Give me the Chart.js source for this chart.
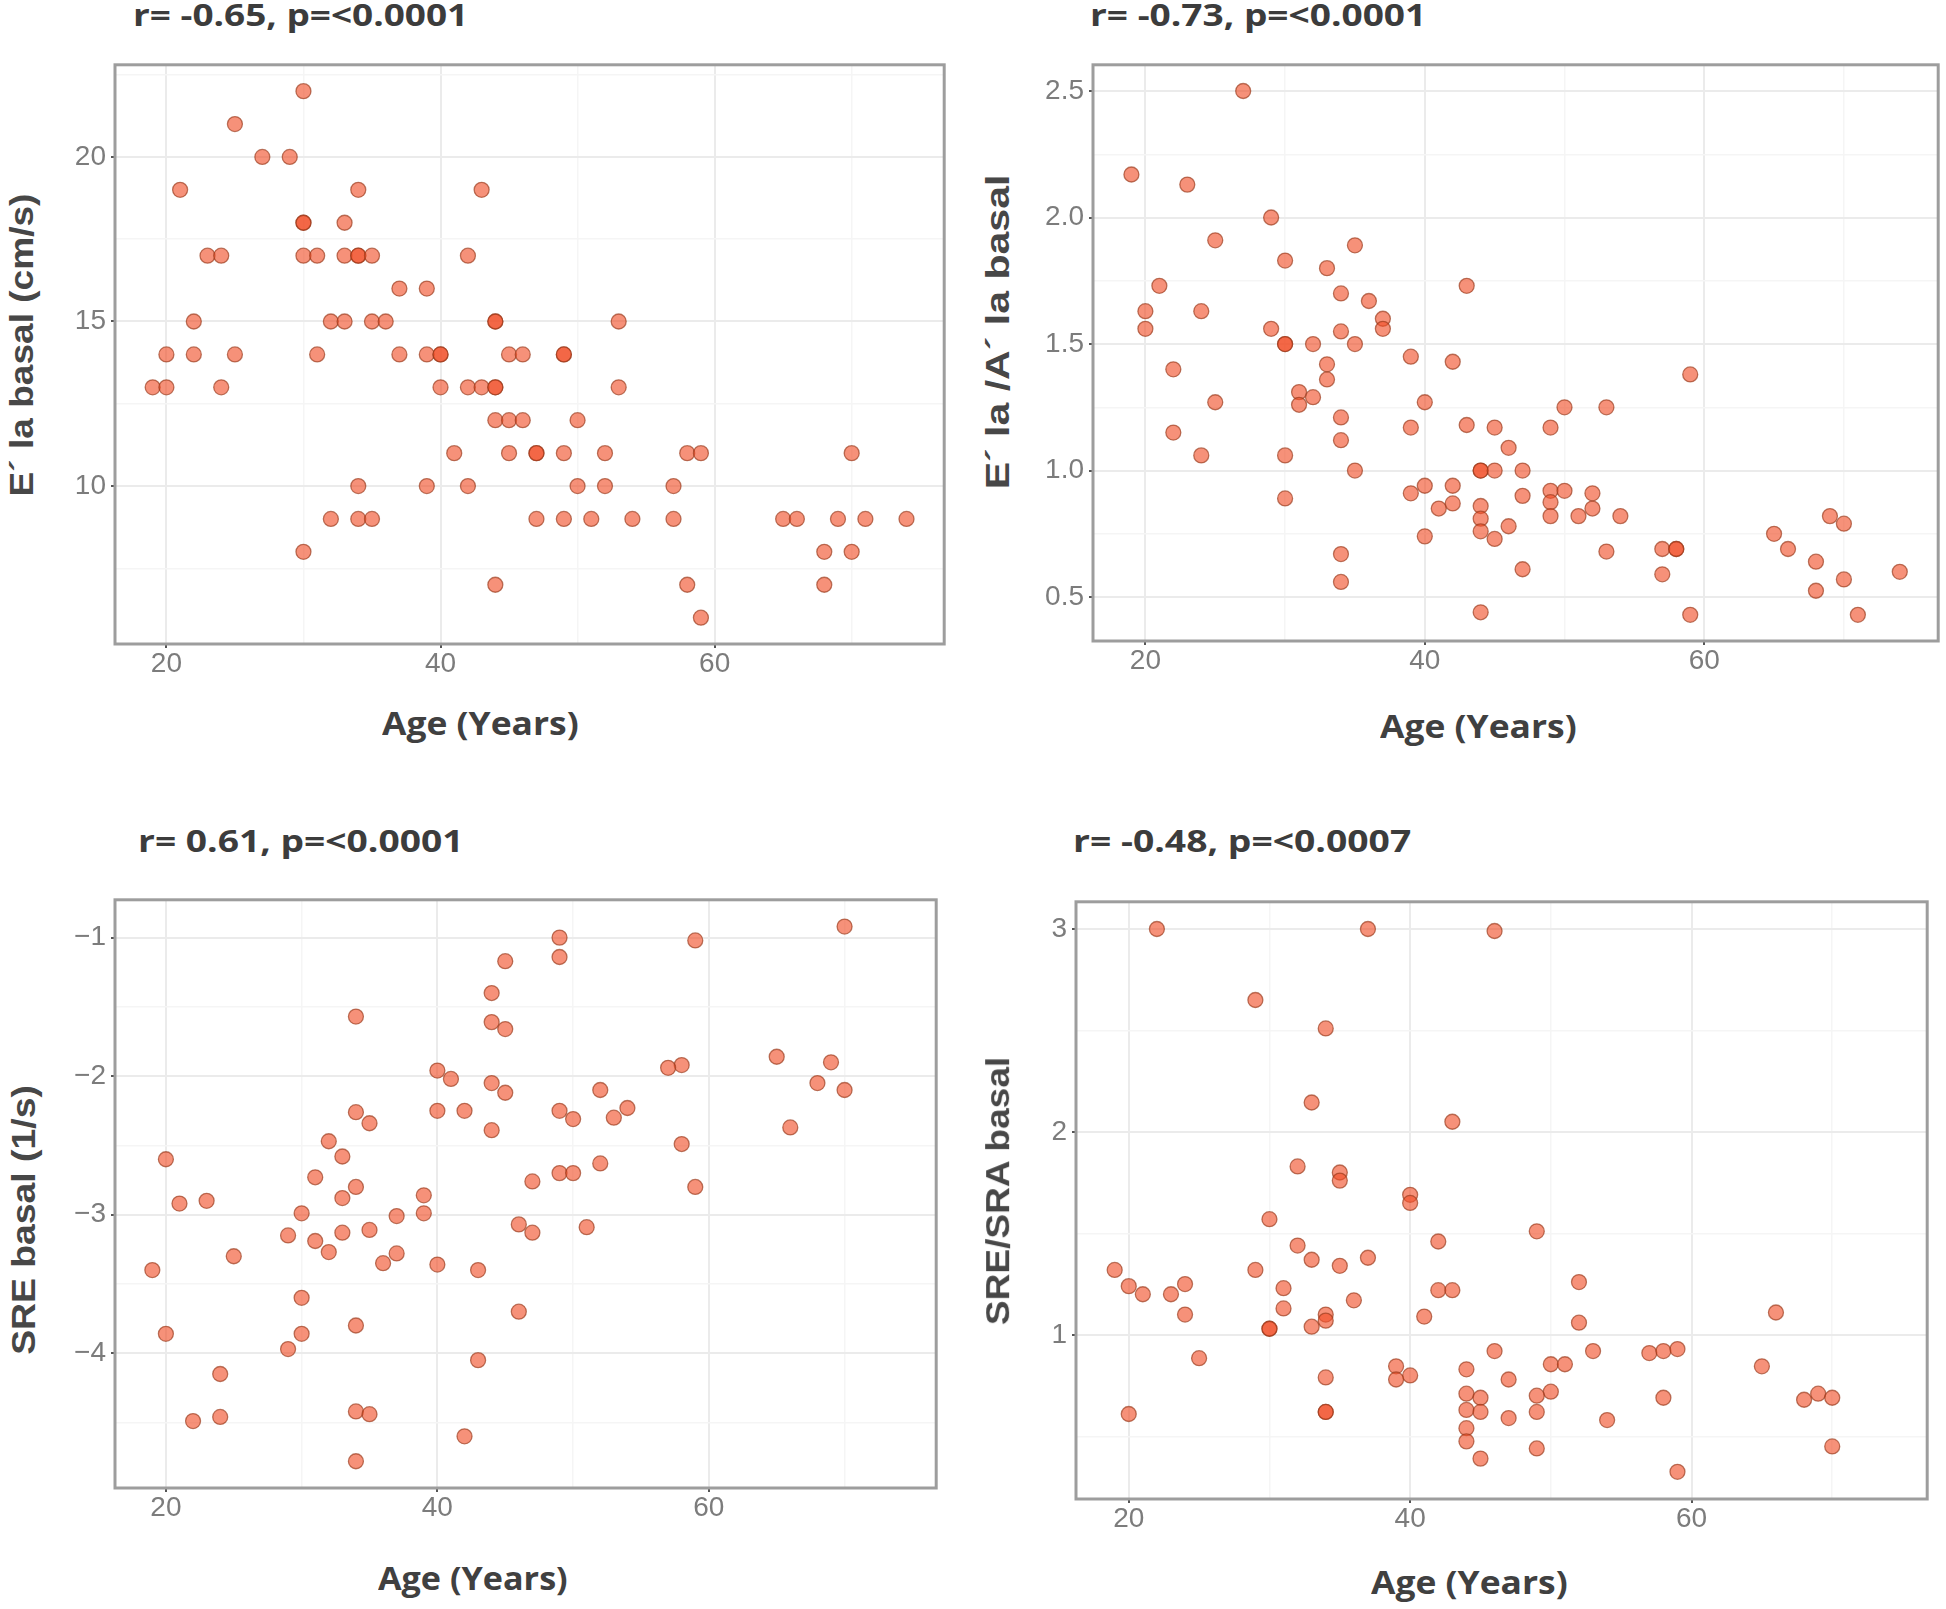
<!DOCTYPE html>
<html>
<head>
<meta charset="utf-8">
<title>E´ la / SRE basal vs Age</title>
<script src="https://cdn.jsdelivr.net/npm/chart.js@4.4.1/dist/chart.umd.min.js"></script>
<style>
  html, body { margin: 0; padding: 0; background: #fff; }
  #page { position: relative; width: 1946px; height: 1609px; overflow: hidden; background: #fff; }
  #page canvas { position: absolute; }
  .txt { position: absolute; white-space: nowrap; line-height: 1; transform-origin: 0 0; }
  .stat { font-family: 'Open Sans'; font-weight: 700; font-size: 30px; color: #3c3c3c; }
  .xlab { font-family: 'Open Sans'; font-weight: 700; font-size: 32px; color: #404040; }
  .ylab { font-family: 'Liberation Sans'; font-weight: 700; font-size: 34px; color: #474747; transform-origin: 50% 50%; }
</style>
</head>
<body>
<div id="page">
  <canvas id="chartEla"></canvas>
  <canvas id="chartRatio"></canvas>
  <canvas id="chartSre"></canvas>
  <canvas id="chartSreSra"></canvas>
</div>
<script>
// ---------------------------------------------------------------
// Dados: idade x parâmetro, um par por índice
// ---------------------------------------------------------------

// Eixo X comum
const xMajor = [20, 40, 60];
const xMinor = [30, 50, 70];

// 1) E´ la basal (cm/s)
const ageEla = [
  30, 25, 27, 29, 21, 34, 43,
  30, 30, 33,
  23, 24, 30, 31, 33, 34, 34, 35, 42,
  37, 39,
  22, 32, 33, 35, 36, 44, 44, 53,
  20, 22, 25, 31, 37, 39, 40, 40, 45, 46, 49, 49,
  19, 20, 24, 40, 42, 43, 44, 44, 53,
  44, 45, 46, 50,
  41, 45, 47, 47, 49, 52, 58, 59, 70,
  34, 39, 42, 50, 52, 57,
  32, 34, 35, 47, 49, 51, 54, 57, 65, 66, 69, 71, 74,
  30, 68, 70,
  44, 58, 68,
  59
];
const ela = [
  22, 21, 20, 20, 19, 19, 19,
  18, 18, 18,
  17, 17, 17, 17, 17, 17, 17, 17, 17,
  16, 16,
  15, 15, 15, 15, 15, 15, 15, 15,
  14, 14, 14, 14, 14, 14, 14, 14, 14, 14, 14, 14,
  13, 13, 13, 13, 13, 13, 13, 13, 13,
  12, 12, 12, 12,
  11, 11, 11, 11, 11, 11, 11, 11, 11,
  10, 10, 10, 10, 10, 10,
  9, 9, 9, 9, 9, 9, 9, 9, 9, 9, 9, 9, 9,
  8, 8, 8,
  7, 7, 7,
  6
];
const elaTicks = [10, 15, 20];
const elaMinor = [7.5, 12.5, 17.5, 22.5];

// 2) E´ la /A´ la basal
const ageRatio = [
  27, 19, 23, 29, 25, 35, 30, 33, 21, 43,
  34, 36, 20, 24, 37, 37, 20, 29, 34, 30,
  30, 32, 35, 39, 42, 33, 22, 59, 33, 31,
  32, 25, 40, 31, 50, 53, 34, 43, 39, 45,
  49, 22, 34, 46, 24, 30, 35, 44, 44, 45,
  47, 40, 42, 49, 50, 39, 52, 47, 30, 49,
  42, 44, 41, 52, 49, 51, 54, 69, 44, 70,
  46, 44, 65, 40, 45, 57, 58, 58, 66, 53,
  34, 68, 47, 74, 57, 70, 34, 68, 44, 59,
  71
];
const ratio = [
  2.50, 2.17, 2.13, 2.00, 1.91, 1.89, 1.83, 1.80, 1.73, 1.73,
  1.70, 1.67, 1.63, 1.63, 1.60, 1.56, 1.56, 1.56, 1.55, 1.50,
  1.50, 1.50, 1.50, 1.45, 1.43, 1.42, 1.40, 1.38, 1.36, 1.31,
  1.29, 1.27, 1.27, 1.26, 1.25, 1.25, 1.21, 1.18, 1.17, 1.17,
  1.17, 1.15, 1.12, 1.09, 1.06, 1.06, 1.00, 1.00, 1.00, 1.00,
  1.00, 0.94, 0.94, 0.92, 0.92, 0.91, 0.91, 0.90, 0.89, 0.875,
  0.87, 0.86, 0.85, 0.85, 0.82, 0.82, 0.82, 0.82, 0.81, 0.79,
  0.78, 0.76, 0.75, 0.74, 0.73, 0.69, 0.69, 0.69, 0.69, 0.68,
  0.67, 0.64, 0.61, 0.60, 0.59, 0.57, 0.56, 0.525, 0.44, 0.43,
  0.43
];
const ratioTicks = [0.5, 1.0, 1.5, 2.0, 2.5];
const ratioMinor = [0.75, 1.25, 1.75, 2.25];

// 3) SRE basal (1/s)
const ageSre = [
  70, 49, 59, 49, 45, 44, 34, 44, 45, 65,
  69, 58, 57, 40, 41, 44, 68, 52, 70, 45,
  54, 49, 40, 42, 34, 53, 50, 35, 66, 44,
  32, 58, 33, 20, 52, 49, 50, 31, 47, 34,
  59, 39, 33, 23, 21, 30, 39, 37, 46, 51,
  35, 33, 47, 29, 31, 32, 37, 25, 36, 40,
  19, 43, 30, 46, 34, 20, 30, 29, 43, 24,
  34, 35, 24, 22, 42, 34
];
const sre = [
  -0.92, -1.00, -1.02, -1.14, -1.17, -1.40, -1.57, -1.61, -1.66, -1.86,
  -1.90, -1.92, -1.94, -1.96, -2.02, -2.05, -2.05, -2.10, -2.10, -2.12,
  -2.23, -2.25, -2.25, -2.25, -2.26, -2.30, -2.31, -2.34, -2.37, -2.39,
  -2.47, -2.49, -2.58, -2.60, -2.63, -2.70, -2.70, -2.73, -2.76, -2.80,
  -2.80, -2.86, -2.88, -2.90, -2.92, -2.99, -2.99, -3.01, -3.07, -3.09,
  -3.11, -3.13, -3.13, -3.15, -3.19, -3.27, -3.28, -3.30, -3.35, -3.36,
  -3.40, -3.40, -3.60, -3.70, -3.80, -3.86, -3.86, -3.97, -4.05, -4.15,
  -4.42, -4.44, -4.46, -4.49, -4.60, -4.78
];
const sreTicks = [-4, -3, -2, -1];
const sreMinor = [-4.5, -3.5, -2.5, -1.5];

// 4) SRE/SRA basal
const ageSreSra = [
  22, 37, 46, 29, 34, 33, 43, 32, 35, 35,
  40, 40, 30, 49, 42, 32, 37, 33, 35, 19,
  29, 52, 24, 20, 31, 42, 43, 21, 23, 36,
  31, 66, 24, 34, 41, 34, 52, 33, 30, 30,
  46, 53, 57, 58, 59, 25, 50, 51, 39, 65,
  44, 40, 34, 39, 47, 44, 50, 45, 49, 58,
  68, 69, 70, 44, 34, 34, 49, 45, 20, 47,
  54, 44, 44, 49, 70, 45, 59
];
const sreSra = [
  3.00, 3.00, 2.99, 2.65, 2.51, 2.145, 2.05, 1.83, 1.80, 1.76,
  1.69, 1.65, 1.57, 1.51, 1.46, 1.44, 1.38, 1.37, 1.34, 1.32,
  1.32, 1.26, 1.25, 1.24, 1.23, 1.22, 1.22, 1.20, 1.20, 1.17,
  1.13, 1.11, 1.10, 1.10, 1.09, 1.07, 1.06, 1.04, 1.03, 1.03,
  0.92, 0.92, 0.91, 0.92, 0.93, 0.885, 0.855, 0.855, 0.845, 0.845,
  0.83, 0.80, 0.79, 0.78, 0.78, 0.71, 0.72, 0.69, 0.70, 0.69,
  0.68, 0.71, 0.69, 0.63, 0.62, 0.62, 0.62, 0.62, 0.61, 0.59,
  0.58, 0.54, 0.475, 0.44, 0.45, 0.39, 0.325
];
const sreSraTicks = [1, 2, 3];
const sreSraMinor = [0.5, 1.5, 2.5];

// ---------------------------------------------------------------
// Estilo (tema parecido com ggplot theme_bw)
// ---------------------------------------------------------------
const POINT_FILL = 'rgba(240, 78, 38, 0.62)';
const POINT_EDGE = 'rgba(150, 55, 25, 0.65)';
const GRID_MAJOR = '#ebebeb';
const GRID_MINOR = '#f5f5f5';
const TICK_TEXT = '#7c7c7c';
const FRAME = '#9d9d9d';

const Y_AXIS_W = 62;   // espaço reservado para os rótulos do eixo Y
const X_AXIS_H = 48;   // espaço reservado para os rótulos do eixo X
const PAD = 4;         // folga para a moldura não ser cortada

// Moldura cinza em volta da área do gráfico
const panelFrame = {
    id: 'panelFrame',
    afterDraw(chart) {
        const { ctx, chartArea: a } = chart;
        ctx.save();
        ctx.strokeStyle = FRAME;
        ctx.lineWidth = 3;
        ctx.strokeRect(a.left, a.top, a.right - a.left, a.bottom - a.top);
        ctx.restore();
    }
};

function axisOptions(major, minor, min, max, fmt, isX) {
    const isMajor = v => major.some(m => Math.abs(m - v) < 1e-9);
    return {
        type: 'linear',
        min: min,
        max: max,
        afterBuildTicks: scale => {
            scale.ticks = major.concat(minor).sort((a, b) => a - b).map(v => ({ value: v }));
        },
        afterFit: scale => {
            // tamanho fixo e sem folga extra: a área do gráfico fica onde queremos
            if (isX) scale.height = X_AXIS_H;
            else scale.width = Y_AXIS_W;
            scale.paddingTop = 0;
            scale.paddingBottom = 0;
            scale.paddingLeft = 0;
            scale.paddingRight = 0;
        },
        border: { display: false },
        grid: {
            color: c => (c.tick && isMajor(c.tick.value)) ? GRID_MAJOR : GRID_MINOR,
            lineWidth: c => (c.tick && isMajor(c.tick.value)) ? 2 : 1.5,
            tickColor: c => (c.tick && isMajor(c.tick.value)) ? '#555555' : 'rgba(0,0,0,0)',
            tickLength: 4,
            drawTicks: true
        },
        ticks: {
            color: TICK_TEXT,
            autoSkip: false,
            maxRotation: 0,
            padding: isX ? 2 : 5,
            font: { family: 'Liberation Sans', size: 28, lineHeight: 1 },
            callback: v => isMajor(v) ? fmt(v) : ''
        }
    };
}

function buildPanel(id, box, ages, values, yMin, yMax, yMajor, yMinor, yFmt) {
    const cv = document.getElementById(id);
    cv.width = box.r - box.l + Y_AXIS_W + PAD;
    cv.height = box.b - box.t + X_AXIS_H + PAD;
    cv.style.left = (box.l - Y_AXIS_W) + 'px';
    cv.style.top = (box.t - PAD) + 'px';

    const points = ages.map((a, i) => ({ x: a, y: values[i] }));

    return new Chart(cv, {
        type: 'scatter',
        data: {
            datasets: [{
                data: points,
                backgroundColor: POINT_FILL,
                borderColor: POINT_EDGE,
                borderWidth: 1.3,
                pointRadius: 7.5,
                pointHoverRadius: 7.5
            }]
        },
        options: {
            responsive: false,
            animation: false,
            devicePixelRatio: 1,
            layout: { padding: { top: PAD, right: PAD, left: 0, bottom: 0 } },
            plugins: {
                legend: { display: false },
                tooltip: { enabled: false }
            },
            scales: {
                x: axisOptions(xMajor, xMinor, 16.25, 76.75, v => String(v), true),
                y: axisOptions(yMajor, yMinor, yMin, yMax, yFmt, false)
            }
        },
        plugins: [panelFrame]
    });
}

buildPanel('chartEla', { l: 115, t: 60, r: 949, b: 644 },
    ageEla, ela, 5.2, 22.8, elaTicks, elaMinor, v => String(v));
buildPanel('chartRatio', { l: 1093, t: 60, r: 1943, b: 641 },
    ageRatio, ratio, 0.3265, 2.6035, ratioTicks, ratioMinor, v => v.toFixed(1));
buildPanel('chartSre', { l: 115, t: 895, r: 941, b: 1488 },
    ageSre, sre, -4.973, -0.727, sreTicks, sreMinor, v => '\u2212' + Math.abs(v));
buildPanel('chartSreSra', { l: 1076, t: 897, r: 1932, b: 1499 },
    ageSreSra, sreSra, 0.191, 3.134, sreSraTicks, sreSraMinor, v => String(v));

// ---------------------------------------------------------------
// Textos (títulos) como HTML, ajustados à largura da figura
// ---------------------------------------------------------------
const page = document.getElementById('page');

function addText(cls, text, x, y, w, rotated) {
    const el = document.createElement('div');
    el.className = 'txt ' + cls;
    el.textContent = text;
    page.appendChild(el);
    const k = w / el.offsetWidth;
    if (rotated) {
        el.style.left = (x - el.offsetWidth / 2) + 'px';
        el.style.top = (y - el.offsetHeight / 2) + 'px';
        el.style.transform = 'rotate(-90deg) scaleX(' + k + ')';
    } else {
        el.style.left = x + 'px';
        el.style.top = y + 'px';
        el.style.transform = 'scaleX(' + k + ')';
    }
}

addText('stat', 'r= -0.65, p=<0.0001', 133, 0, 335);
addText('stat', 'r= -0.73, p=<0.0001', 1090, 0, 336);
addText('stat', 'r= 0.61, p=<0.0001', 138, 826, 326);
addText('stat', 'r= -0.48, p=<0.0007', 1073, 826, 338);

addText('xlab', 'Age (Years)', 382, 707, 197);
addText('xlab', 'Age (Years)', 1380, 710, 197);
addText('xlab', 'Age (Years)', 378, 1562, 190);
addText('xlab', 'Age (Years)', 1371, 1566, 197);

addText('ylab', 'E\u00B4 la basal (cm/s)', 21, 345, 303, true);
addText('ylab', 'E\u00B4 la /A\u00B4 la basal', 997, 332, 315, true);
addText('ylab', 'SRE basal (1/s)', 23, 1220, 270, true);
addText('ylab', 'SRE/SRA basal', 997, 1191, 268, true);
</script>
</body>
</html>
